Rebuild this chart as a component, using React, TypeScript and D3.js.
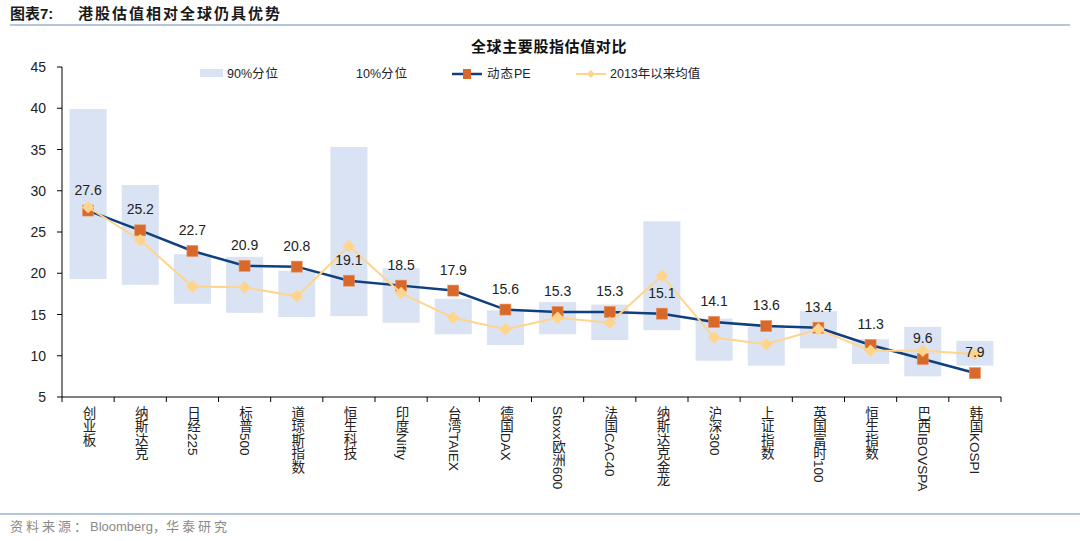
import React from 'react';
import * as d3 from 'd3';

const categories = [
  '创业板', '纳斯达克', '日经225', '标普500', '道琼斯指数', '恒生科技', '印度Nifty', '台湾TAIEX', '德国DAX',
  'Stoxx欧洲600', '法国CAC40', '纳斯达克金龙', '沪深300', '上证指数', '英国富时100', '恒生指数', '巴西IBOVSPA', '韩国KOSPI',
];
const pct90 = [39.9, 30.7, 22.3, 22.0, 20.3, 35.3, 20.6, 16.9, 15.5, 16.5, 16.2, 26.3, 14.5, 13.5, 15.4, 12.0, 13.5, 11.8];
const pct10 = [19.3, 18.6, 16.3, 15.2, 14.7, 14.8, 14.0, 12.6, 11.3, 12.6, 11.9, 13.1, 9.4, 8.8, 10.9, 9.0, 7.5, 8.8];
const pe = [27.6, 25.2, 22.7, 20.9, 20.8, 19.1, 18.5, 17.9, 15.6, 15.3, 15.3, 15.1, 14.1, 13.6, 13.4, 11.3, 9.6, 7.9];
const avg2013 = [28.0, 24.0, 18.4, 18.3, 17.2, 23.3, 17.6, 14.6, 13.2, 14.6, 14.0, 19.7, 12.2, 11.4, 13.2, 10.6, 10.6, 10.2];
const yTicks = [5, 10, 15, 20, 25, 30, 35, 40, 45];

const FONT = '"Liberation Sans", Arial, "Noto Sans CJK SC", sans-serif';
const PE_COLOR = '#0E3F7F';
const MARK_COLOR = '#D8692A';
const AVG_COLOR = '#FFD48C';
const BAR_COLOR = '#DAE3F3';

const App: React.FC = () => {
  const width = 1080;
  const height = 541;
  const plot = { left: 62, right: 1001, top: 67, bottom: 397 };

  const x = d3.scaleBand<string>().domain(categories).range([plot.left, plot.right]).paddingInner(0.29).paddingOuter(0.145);
  const y = d3.scaleLinear().domain([5, 45]).range([plot.bottom, plot.top]);
  const cx = (c: string) => (x(c) as number) + x.bandwidth() / 2;
  const step = x.step();

  const peLine = d3.line<number>().x((_, i) => cx(categories[i])).y((d) => y(d));
  const boundaries = d3.range(categories.length + 1).map((i) => plot.left + i * step);
  const diamond = d3.symbol().type(d3.symbolDiamond2).size(100)();

  return (
    <svg width={width} height={height} style={{ position: 'absolute', left: 0, top: 0, background: '#fff' }} fontFamily={FONT}>
      {/* header */}
      <text x={10} y={19} fontSize={15} fontWeight="bold" fill="#1a1a1a">图表7:</text>
      <text x={78} y={19} fontSize={15} fontWeight="bold" fill="#1a1a1a" letterSpacing={2}>港股估值相对全球仍具优势</text>
      <line x1={10} x2={1070} y1={25} y2={25} stroke="#9BB3D1" strokeWidth={1.5} />
      <text x={549} y={52} fontSize={15} fontWeight="bold" textAnchor="middle" fill="#111" letterSpacing={0.6}>全球主要股指估值对比</text>

      {/* legend */}
      <g fontSize={12.5} fill="#222">
        <rect x={200} y={69} width={23} height={8} fill={BAR_COLOR} />
        <text x={227} y={78}>90%<tspan letterSpacing={1}>分位</tspan></text>
        <rect x={330} y={69} width={23} height={8} fill="#fff" />
        <text x={356} y={78}>10%<tspan letterSpacing={1}>分位</tspan></text>
        <line x1={452} x2={482} y1={74} y2={74} stroke={PE_COLOR} strokeWidth={2.5} />
        <rect x={463} y={69} width={8} height={10} fill={MARK_COLOR} />
        <text x={487} y={78}><tspan letterSpacing={1}>动态</tspan>PE</text>
        <line x1={576} x2={606} y1={74} y2={74} stroke={AVG_COLOR} strokeWidth={2} />
        <path d={d3.symbol().type(d3.symbolDiamond2).size(40)() as string} transform="translate(591,74)" fill={AVG_COLOR} />
        <text x={610} y={78}>2013年以来均值</text>
      </g>

      {/* floating percentile bars */}
      {categories.map((c, i) => (
        <rect key={c} x={x(c)} y={y(pct90[i])} width={x.bandwidth()} height={y(pct10[i]) - y(pct90[i])} fill={BAR_COLOR} />
      ))}

      {/* y axis */}
      <line x1={plot.left} x2={plot.left} y1={plot.top} y2={plot.bottom} stroke="#000" />
      {yTicks.map((t) => (
        <g key={t}>
          <line x1={plot.left - 5} x2={plot.left} y1={y(t)} y2={y(t)} stroke="#000" />
          <text x={plot.left - 16} y={y(t) + 5} fontSize={14} textAnchor="end" fill="#222">{t}</text>
        </g>
      ))}

      {/* x axis */}
      <line x1={plot.left} x2={plot.right} y1={plot.bottom} y2={plot.bottom} stroke="#000" strokeWidth={1.2} />
      {boundaries.map((b, i) => (
        <line key={i} x1={b} x2={b} y1={plot.bottom} y2={plot.bottom + 5} stroke="#000" />
      ))}
      {categories.map((c) => (
        <text key={c} x={cx(c)} y={plot.bottom + 9} fontSize={13.5} fill="#222" style={{ writingMode: 'vertical-rl' }}>{c}</text>
      ))}

      {/* PE line */}
      <path d={peLine(pe) as string} fill="none" stroke={PE_COLOR} strokeWidth={2.5} />
      {pe.map((v, i) => (
        <rect key={i} x={cx(categories[i]) - 5.5} y={y(v) - 5.5} width={11} height={11} fill={MARK_COLOR} stroke="#E8925E" strokeWidth={0.6} />
      ))}

      {/* 2013 average line */}
      <path d={peLine(avg2013) as string} fill="none" stroke={AVG_COLOR} strokeWidth={2} />
      {avg2013.map((v, i) => (
        <path key={i} d={diamond as string} transform={`translate(${cx(categories[i])},${y(v)})`} fill={AVG_COLOR} />
      ))}

      {/* data labels */}
      {pe.map((v, i) => (
        <text key={i} x={cx(categories[i])} y={y(v) - 16} fontSize={14} textAnchor="middle" fill="#222">{v.toFixed(1)}</text>
      ))}

      {/* footer */}
      <line x1={0} x2={1080} y1={514} y2={514} stroke="#9BB3D1" strokeWidth={1.5} />
      <text x={10} y={531} fontSize={13} fill="#8a8a8a">
        <tspan letterSpacing={3}>资料来源：</tspan>Bloomberg，<tspan letterSpacing={3}>华泰研究</tspan>
      </text>
    </svg>
  );
};

export default App;
